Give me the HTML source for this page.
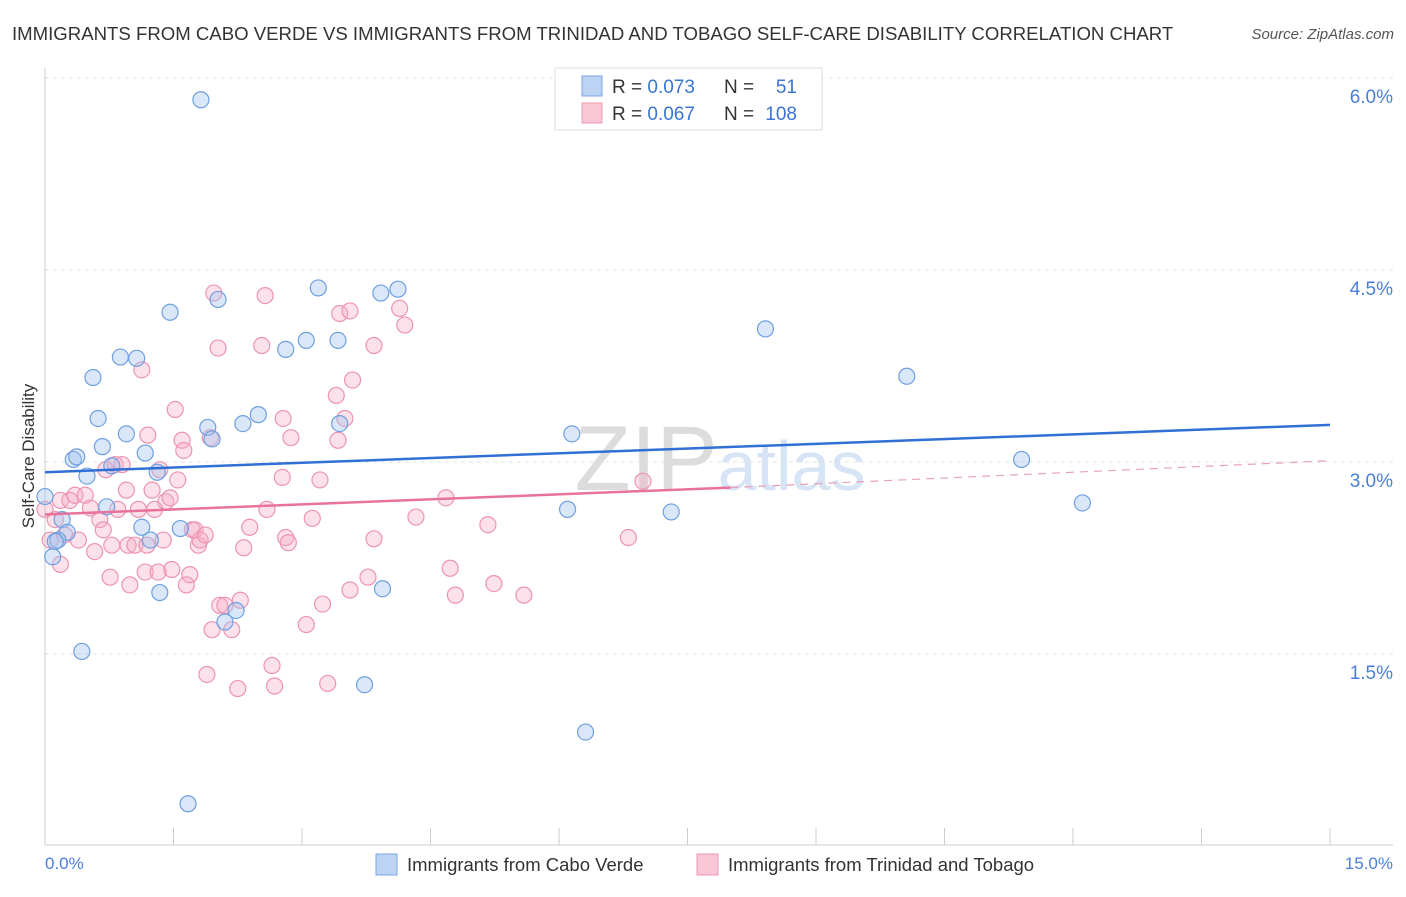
<!DOCTYPE html>
<html><head><meta charset="utf-8"><style>
body{margin:0;background:#fff;font-family:"Liberation Sans",sans-serif;}
svg text{font-family:"Liberation Sans",sans-serif;}
</style></head><body>
<svg id="chart" width="1406" height="892" xmlns="http://www.w3.org/2000/svg">
<text x="12" y="40" font-size="18.6" fill="#333">IMMIGRANTS FROM CABO VERDE VS IMMIGRANTS FROM TRINIDAD AND TOBAGO SELF-CARE DISABILITY CORRELATION CHART</text>
<text x="1394" y="39" font-size="15" fill="#555" text-anchor="end" font-style="italic">Source: ZipAtlas.com</text>
<text x="720" y="490" font-size="92" fill="#e4e4e4" text-anchor="middle" font-family="Liberation Serif"><tspan fill="#dcdcdc">ZIP</tspan><tspan fill="#d6e4f5" font-family="Liberation Sans" font-size="70">atlas</tspan></text>
<g id="grid"></g>
<g id="axes"></g>
<g id="pts"></g>
<g id="trends"></g>
<text transform="translate(34,456) rotate(-90)" font-size="17" fill="#333" text-anchor="middle">Self-Care Disability</text>
<text x="45" y="869" font-size="17" fill="#4a7fd8">0.0%</text>
<text x="1393" y="869" font-size="17" fill="#4a7fd8" text-anchor="end">15.0%</text>
<g>
<rect x="555" y="68" width="267" height="62" fill="#fff" stroke="#ddd"/>
<rect x="582" y="76" width="20" height="20" fill="#bcd4f4" stroke="#7aa6e0"/>
<rect x="582" y="103" width="20" height="20" fill="#f9c6d6" stroke="#ec9ab6"/>
<text x="612" y="93" font-size="19" fill="#333">R = <tspan fill="#3a74d4">0.073</tspan></text>
<text x="724" y="93" font-size="19" fill="#333">N =</text>
<text x="797" y="93" font-size="19" fill="#3a74d4" text-anchor="end">51</text>
<text x="612" y="120" font-size="19" fill="#333">R = <tspan fill="#3a74d4">0.067</tspan></text>
<text x="724" y="120" font-size="19" fill="#333">N =</text>
<text x="797" y="120" font-size="19" fill="#3a74d4" text-anchor="end">108</text>
</g>
<g>
<rect x="376" y="854" width="21" height="21" fill="#bcd4f4" stroke="#7aa6e0"/>
<text x="407" y="871" font-size="18.5" fill="#333">Immigrants from Cabo Verde</text>
<rect x="697" y="854" width="21" height="21" fill="#f9c6d6" stroke="#ec9ab6"/>
<text x="728" y="871" font-size="18.5" fill="#333">Immigrants from Trinidad and Tobago</text>
</g>
</svg>
<script>
const yTicks=[1.5,3.0,4.5,6.0];
const yTickLabels=["1.5%","3.0%","4.5%","6.0%"];
const blueX=[1.82,0,0.09,0.20,0.26,0.33,0.37,0.43,0.49,0.56,0.62,0.67,0.72,0.78,0.88,0.95,1.07,1.13,1.17,1.23,1.31,1.34,1.46,1.58,1.67,1.90,1.95,2.02,2.10,2.23,2.31,2.49,2.81,3.05,3.19,3.42,3.44,3.73,3.92,3.94,4.12,6.15,6.10,7.31,8.41,6.31,10.06,11.40,12.11,0.15,0.12];
const blueY=[5.83,2.73,2.26,2.55,2.45,3.02,3.04,1.52,2.89,3.66,3.34,3.12,2.65,2.97,3.82,3.22,3.81,2.49,3.07,2.39,2.92,1.98,4.17,2.48,0.33,3.27,3.18,4.27,1.75,1.84,3.30,3.37,3.88,3.95,4.36,3.95,3.30,1.26,4.32,2.01,4.35,3.22,2.63,2.61,4.04,0.89,3.67,3.02,2.68,2.39,2.38];
const pinkX=[0,0.06,0.12,0.18,0.23,0.29,0.35,0.39,0.47,0.53,0.58,0.64,0.68,0.71,0.76,0.78,0.82,0.85,0.90,0.95,0.97,0.99,1.05,1.09,1.13,1.17,1.19,1.20,1.25,1.28,1.32,1.34,1.38,1.41,1.46,1.48,1.52,1.55,1.60,1.62,1.65,1.69,1.72,1.75,1.79,1.81,1.87,1.89,1.93,1.95,1.97,2.02,2.04,2.10,2.18,2.25,2.28,2.32,2.39,2.53,2.57,2.59,2.65,2.68,2.77,2.78,2.81,2.84,2.87,3.05,3.12,3.21,3.24,3.30,3.40,3.42,3.44,3.50,3.56,3.59,3.56,3.77,3.84,3.84,4.14,4.20,4.33,4.68,4.73,4.79,5.17,5.24,5.59,6.81,6.98,0.18];
const pinkY=[2.63,2.39,2.55,2.70,2.43,2.70,2.74,2.39,2.74,2.64,2.30,2.55,2.47,2.94,2.10,2.35,2.98,2.63,2.98,2.78,2.35,2.04,2.35,2.63,3.72,2.14,2.35,3.21,2.78,2.63,2.14,2.94,2.39,2.69,2.72,2.16,3.41,2.86,3.17,3.09,2.04,2.12,2.47,2.47,2.35,2.39,2.43,1.34,3.19,1.69,4.32,3.89,1.88,1.88,1.69,1.23,1.92,2.33,2.49,3.91,4.30,2.63,1.41,1.25,2.88,3.34,2.41,2.37,3.19,1.73,2.56,2.86,1.89,1.27,3.52,3.17,4.16,3.34,4.18,3.64,2.00,2.10,2.40,3.91,4.20,4.07,2.57,2.72,2.17,1.96,2.51,2.05,1.96,2.41,2.85,2.20];
const blueTrend=[2.92,3.29];
const pinkTrend=[2.59,2.80,3.01];
const pinkSolidEnd=8.0;
const NS="http://www.w3.org/2000/svg";
const X=v=>45+v/15*1285, Y=v=>654-(v-1.5)*128;
function mk(t,a,p){const e=document.createElementNS(NS,t);for(const k in a)e.setAttribute(k,a[k]);p.appendChild(e);return e;}
const grid=document.getElementById('grid');
yTicks.forEach((t,i)=>{
 const l=mk('line',{x1:45,x2:1393,y1:Y(t),y2:Y(t),stroke:'#e2e2e2','stroke-dasharray':'4,4'},grid);
 
 
 const tx=mk('text',{x:1393,y:Y(t)+25,'font-size':19,fill:'#4a7fd8','text-anchor':'end'},grid);
 tx.textContent=yTickLabels[i];
 
 
});
const ax=document.getElementById('axes');
const xa=mk('line',{x1:45,x2:1393,y1:845,y2:845,stroke:'#ccc'},ax);


const ya=mk('line',{x1:45,x2:45,y1:68,y2:845,stroke:'#ccc'},ax);


for(let i=1;i<=10;i++){const t=mk('line',{x1:X(i*1.5),x2:X(i*1.5),y1:828,y2:845,stroke:'#ccc'},ax);
 
 }
const pts=document.getElementById('pts');
pinkX.forEach((x,i)=>{const c=mk('circle',{cx:X(x),cy:Y(pinkY[i]),r:8,fill:'rgba(245,170,196,0.35)',stroke:'#ec94b2','stroke-width':1.2},pts);
 
 });
blueX.forEach((x,i)=>{const c=mk('circle',{cx:X(x),cy:Y(blueY[i]),r:8,fill:'rgba(160,195,240,0.4)',stroke:'#6f9fe0','stroke-width':1.2},pts);
 
 });
const tr=document.getElementById('trends');
const b=mk('line',{x1:X(0),y1:Y(blueTrend[0]),x2:X(15),y2:Y(blueTrend[1]),stroke:'#2f6fd6','stroke-width':2.5},tr);


const p1=mk('line',{x1:X(0),y1:Y(pinkTrend[0]),x2:X(pinkSolidEnd),y2:Y(pinkTrend[1]),stroke:'#e8729a','stroke-width':2.5},tr);


const p2=mk('line',{x1:X(pinkSolidEnd),y1:Y(pinkTrend[1]),x2:X(15),y2:Y(pinkTrend[2]),stroke:'#e8a0b8','stroke-width':1.2,'stroke-dasharray':'8,6'},tr);


</script>
</body></html>
